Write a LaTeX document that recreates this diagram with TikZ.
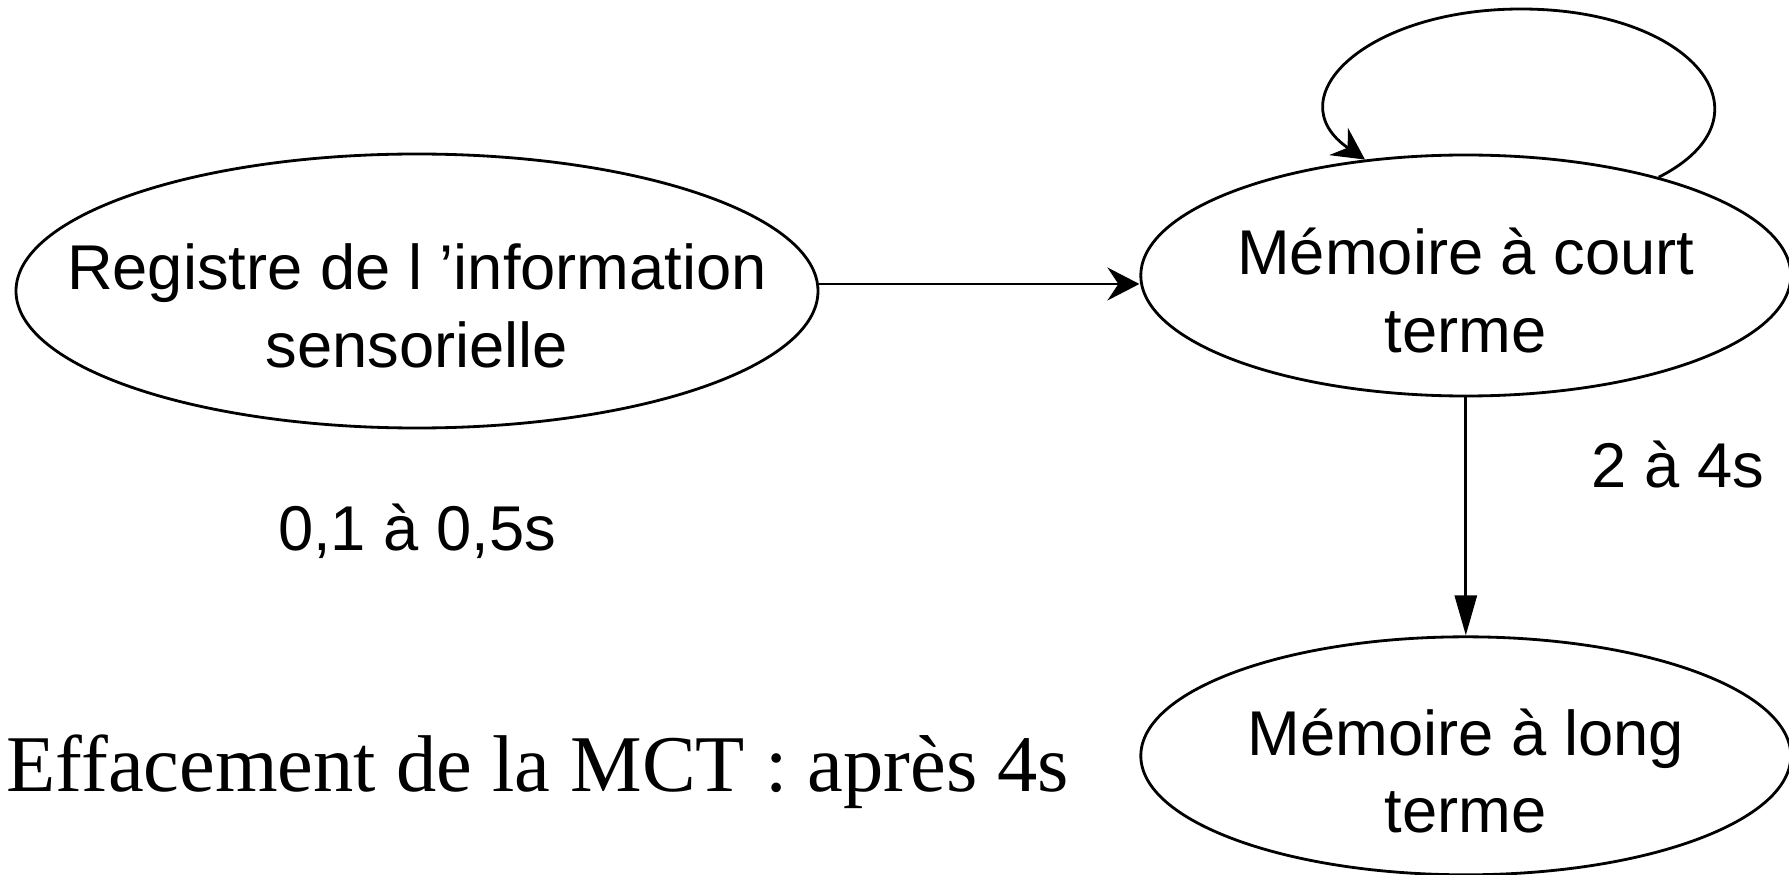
\documentclass[tikz,border=0pt]{standalone}
\usepackage{fontspec}
\setmainfont{Liberation Serif}
\setsansfont{Liberation Sans}
\usetikzlibrary{arrows.meta,positioning,shapes.geometric}

\begin{document}
\begin{tikzpicture}[
  node distance=3.2cm,
  every node/.style={font=\sffamily\fontsize{18}{22}\selectfont},
  etat/.style={
    draw, ellipse, line width=0.8pt, inner sep=0pt
  },
  texte/.style={align=center, inner sep=0pt, yshift=-1.5mm},
  legende/.style={inner sep=0pt},
  fleche/.style={-{Stealth[length=3.2mm, width=3.3mm, inset=1.1mm]}, line width=0.8pt},
  flechebas/.style={-{Triangle[length=4mm, width=2.2mm]}, line width=0.8pt}
]
  \useasboundingbox (0,0) rectangle (17.89,8.74);

  \node[etat, minimum width=8.02cm, minimum height=2.74cm] (registre) at (4.17,5.83) {};
  \node[etat, minimum width=6.5cm, minimum height=2.41cm, right=3.2cm of registre, yshift=1.55mm] (court) {};
  \node[etat, minimum width=6.5cm, minimum height=2.38cm, below=2.38cm of court] (long) {};

  \node[texte] (registre-texte) at (registre) {Registre de l ’information\\sensorielle};
  \node[texte] (court-texte) at (court) {Mémoire à court\\terme};
  \node[texte] (long-texte) at (long) {Mémoire à long\\terme};

  \node[legende, below=0.74cm of registre] (duree1) {0,1 à 0,5s};
  \node[legende, below=0.43cm of court, xshift=2.12cm] (duree2) {2 à 4s};
  \node[legende, font=\rmfamily\fontsize{22.9}{27}\selectfont, anchor=base west] (effacement)
    at (0.06,0.83) {Effacement de la MCT : après 4s};

  \draw[fleche] (registre.1) -- (registre.1 -| court.west);
  \draw[flechebas] (court.south) -- (long.north);
  % boucle sur la memoire a court terme
  \draw[fleche] (court.27) .. controls (17.79,7.58) and (16.93,8.65) .. (15.21,8.65)
    .. controls (13.66,8.65) and (12.75,7.76) .. (court.131);
\end{tikzpicture}
\end{document}
